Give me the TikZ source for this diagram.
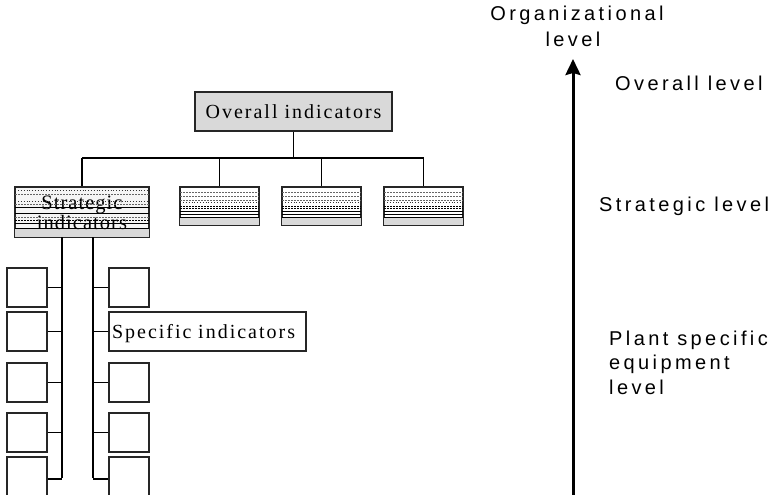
\documentclass[tikz,border=0pt]{standalone}
\usepackage{fontspec}
\usetikzlibrary{arrows.meta}
\newfontfamily\lvlfont[LetterSpace=17]{Liberation Sans}
\newfontfamily\boxfont[LetterSpace=10]{Liberation Serif}
\newfontfamily\stratfont[LetterSpace=5]{Liberation Serif}
\definecolor{boxgray}{HTML}{D9D9D9}
\definecolor{edge}{HTML}{262626}

\tikzset{
  treeline/.style={line width=1.4pt, draw=black},
  leaf/.style={draw=edge, line width=1.3pt, fill=white,
    minimum width=40pt, minimum height=39pt, inner sep=0pt},
  wide/.style={draw=edge, line width=1.3pt, fill=white,
    minimum width=197pt, minimum height=39pt, inner sep=0pt,
    font=\boxfont\fontsize{20}{24}\selectfont, text height=14pt, text depth=0pt},
  hatchbox/.style={draw=edge, line width=1.3pt, fill=white,
    minimum width=79pt, minimum height=38pt, inner sep=0pt},
  lvltext/.style={inner sep=0pt, font=\lvlfont\fontsize{20}{24}\selectfont},
  strattext/.style={inner sep=0pt, font=\stratfont\fontsize{20.5}{24}\selectfont},
  axis/.style={line width=3pt, -{Stealth[length=16pt, width=15pt, inset=2pt]}},
  hl/.style={line width=0.6pt, draw=black!60, dash pattern=on 2pt off 1pt},
  hd/.style={line width=0.8pt, draw=black!80, dotted},
  hk/.style={line width=1.2pt, draw=black, dash pattern=on 2pt off 1pt},
  hs/.style={line width=0.9pt, draw=black},
}

% horizontal shading lines inside a box: {node}{offset from top}{style}
\newcommand{\shadeline}[3]{%
  \draw[#3] ([yshift=-#2pt, xshift=1pt]#1.north west) -- ([yshift=-#2pt, xshift=-1pt]#1.north east);}

\begin{document}
\begin{tikzpicture}[x=1pt, y=-1pt]
\useasboundingbox (0,0) rectangle (771,495);

% ---------- top level ----------
\node[wide, fill=boxgray, align=center] (overall) at (293.5,111.5) {Overall indicators};

% ---------- strategic boxes ----------
\node[draw=edge, line width=1.3pt, fill=black!4, minimum width=134pt,
      minimum height=50pt, inner sep=0pt] (strat) at (82,212) {};
\fill[boxgray] ([yshift=-42pt]strat.north west) rectangle (strat.south east);
\node[strattext, anchor=base] (stratA) at (82,209.5) {Strategic};
\node[strattext, anchor=base] (stratB) at (82,229.5) {indicators};
\foreach \o/\s in {4/hd, 8/hl, 15/hd, 18/hl, 21/hs, 27/hs, 31/hl, 34/hk, 37/hs, 42/hs}
  {\shadeline{strat}{\o}{\s}}
\draw[draw=edge, line width=1.3pt] (strat.north west) rectangle (strat.south east);

\foreach \n/\x in {s2/219.5, s3/321.5, s4/423.5} {
  \node[hatchbox] (\n) at (\x,206) {};
  \fill[boxgray] ([yshift=-31pt]\n.north west) rectangle (\n.south east);
  \foreach \o/\s in {6/hl, 10/hl, 14/hl, 16/hd, 20/hk, 22/hk, 25/hs, 28/hs, 31/hs}
    {\shadeline{\n}{\o}{\s}}
  \draw[draw=edge, line width=1.3pt] (\n.north west) rectangle (\n.south east);
}

% ---------- upper tree ----------
\coordinate (bus) at (293.5,158);
\draw[treeline] (overall.south) -- (bus);
\draw[treeline] (strat.north |- bus) -- (s4.north |- bus);
\foreach \n in {strat, s2, s3, s4}
  \draw[treeline] (\n.north |- bus) -- (\n.north);

% ---------- specific level ----------
\node[leaf] (l1) at (27,287.5) {};
\node[leaf] (l2) at (27,331.5) {};
\node[leaf] (l3) at (27,382.5) {};
\node[leaf] (l4) at (27,432.5) {};
\node[leaf, minimum height=42pt] (l5) at (27,478) {};

\node[leaf] (r1) at (129,287.5) {};
\node[wide, text width=191pt, inner xsep=3pt, align=left] (r2) at (207.5,331.5) {Specific indicators};
\node[leaf] (r3) at (129,382.5) {};
\node[leaf] (r4) at (129,432.5) {};
\node[leaf, minimum height=42pt] (r5) at (129,478) {};

\coordinate (ltrunk) at (62,237);
\coordinate (rtrunk) at (93,237);
\draw[treeline, line width=2.2pt] (ltrunk) -- (ltrunk |- l5.east);
\draw[treeline] (rtrunk) -- (rtrunk |- r5.west);
\foreach \n in {l1, l2, l3, l4}
  \draw[treeline, line width=1.2pt] (\n.east) -- (\n.east -| ltrunk);
\draw[treeline, line width=1.2pt] ([yshift=-1pt]l5.east) -- ([yshift=-1pt]l5.east -| ltrunk);
\foreach \n in {r1, r3, r4}
  \draw[treeline, line width=1.2pt] (\n.west) -- (\n.west -| rtrunk);
\draw[treeline, line width=1.2pt] (r2.west) -- (r2.west -| rtrunk);
\draw[treeline, line width=1.2pt] ([yshift=-1pt]r5.west) -- ([yshift=-1pt]r5.west -| rtrunk);

% ---------- level axis ----------
\coordinate (abot) at (573,495);
\coordinate (atop) at (573,59);
\draw[axis] (abot) -- (atop);

\node[lvltext, anchor=base] (orgA) at (577,21) {Organizational};
\node[lvltext, anchor=base] (orgB) at (573,47) {level};
\node[lvltext, anchor=base west] (lvlO) at (615,91) {Overall level};
\node[lvltext, anchor=base west] (lvlS) at (599,211) {Strategic level};
\node[lvltext, anchor=base west] (lvlP1) at (609,345) {Plant specific};
\node[lvltext, anchor=base west] (lvlP2) at (609,369.5) {equipment};
\node[lvltext, anchor=base west] (lvlP3) at (609,394) {level};
\end{tikzpicture}
\end{document}
